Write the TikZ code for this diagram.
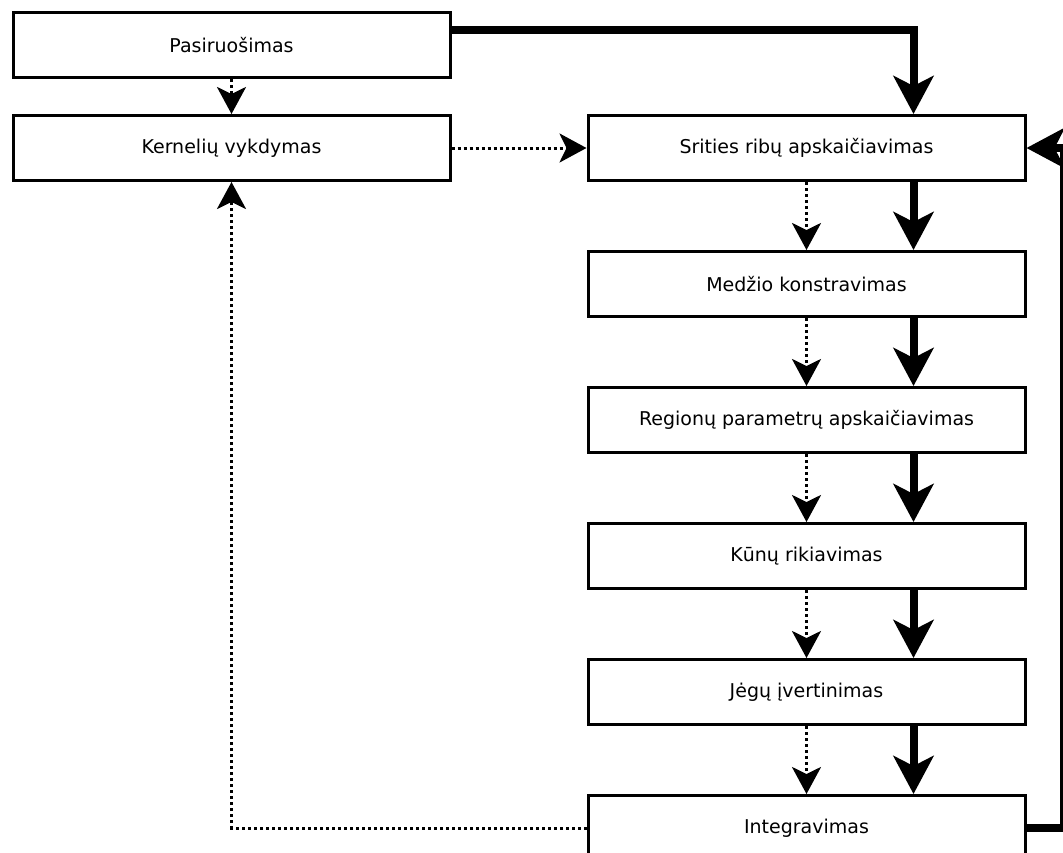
\documentclass[tikz,border=0pt]{standalone}
\usepackage{fontspec}
\setmainfont{DejaVu Sans}
\usetikzlibrary{arrows.meta, positioning}
\tikzset{
  stage/.style={rectangle, draw=black, line width=3pt, fill=white,
                minimum width=437pt, minimum height=65pt, inner sep=0pt,
                font=\fontsize{19}{22}\selectfont},
  ctrl/.style={-{Stealth[length=27pt, width=29pt, inset=7pt, fill=black]}, line width=3pt,
               dash pattern=on 3pt off 3pt},
  data/.style={-{Stealth[length=38pt, width=40pt, inset=10pt, fill=black]}, line width=8pt},
}

\begin{document}
\begin{tikzpicture}[x=1pt, y=-1pt, node distance=68pt and 135pt]
  \clip (0,0) rectangle (1063,852);
  \fill[white] (0,0) rectangle (1063,852);
  % left column
  \node[stage] (prep) at (231.5,45) {Pasiruošimas};
  \node[stage, below=35pt of prep] (kern) {Kernelių vykdymas};
  % right column
  \node[stage, right=of kern] (srit) {Srities ribų apskaičiavimas};
  \node[stage, below=of srit] (medz) {Medžio konstravimas};
  \node[stage, below=of medz] (reg) {Regionų parametrų apskaičiavimas};
  \node[stage, below=of reg] (kun) {Kūnų rikiavimas};
  \node[stage, below=of kun] (jeg) {Jėgų įvertinimas};
  \node[stage, below=of jeg] (integ) {Integravimas};
  % control flow
  \draw[ctrl] (prep) -- (kern);
  \draw[ctrl] (kern) -- (srit);
  \draw[ctrl] (integ.west) -| (kern.south);
  % data flow
  \draw[data] ([yshift=-19pt]prep.north east) -| ([xshift=107pt]srit.north);
  \draw[data] (integ.east) -- ++(37,0) |- (srit.east);
  \foreach \a/\b in {srit/medz, medz/reg, reg/kun, kun/jeg, jeg/integ} {
    \draw[ctrl] (\a) -- (\b);
    \draw[data] ([xshift=107pt]\a.south) -- ([xshift=107pt]\b.north);
  }
\end{tikzpicture}
\end{document}
